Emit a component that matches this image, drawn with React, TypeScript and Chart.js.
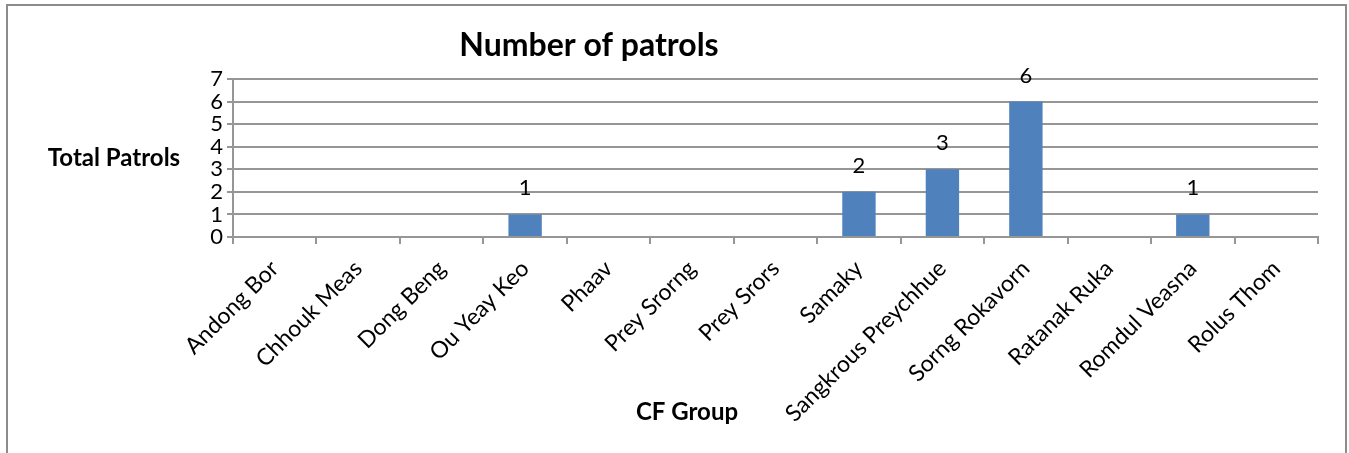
import React, { useEffect, useRef } from "react";
import { Chart, registerables } from "chart.js";

Chart.register(...registerables);

const categories = [
  "Andong Bor",
  "Chhouk Meas",
  "Dong Beng",
  "Ou Yeay Keo",
  "Phaav",
  "Prey Srorng",
  "Prey Srors",
  "Samaky",
  "Sangkrous Preychhue",
  "Sorng Rokavorn",
  "Ratanak Ruka",
  "Romdul Veasna",
  "Rolus Thom",
];
const patrols = [0, 0, 0, 1, 0, 0, 0, 2, 3, 6, 0, 1, 0];
const yTicks = [0, 1, 2, 3, 4, 5, 6, 7];
const chartTitle = "Number of patrols";
const yTitle = "Total Patrols";
const xTitle = "CF Group";

const FONT = "Lato, 'Open Sans', sans-serif";
const GRID = "#969696";
const BAR = "#4F81BD";

const textPlugin = {
  id: "extraText",
  afterDatasetsDraw(chart: any) {
    const ctx = chart.ctx;
    const meta = chart.getDatasetMeta(0);
    ctx.save();
    ctx.fillStyle = "#000";
    ctx.font = `22px ${FONT}`;
    ctx.textAlign = "center";
    ctx.textBaseline = "alphabetic";
    meta.data.forEach((el: any, i: number) => {
      const v = patrols[i];
      if (!v) return;
      ctx.fillText(String(v), el.x, el.y - 19);
    });
    ctx.textBaseline = "middle";
    ctx.font = `bold 32px ${FONT}`;
    ctx.fillText(chartTitle, 589, 46);
    ctx.font = `bold 24px ${FONT}`;
    ctx.fillText(yTitle, 114, 158);
    ctx.fillText(xTitle, 687, 412);
    ctx.restore();
  },
};

export default function App() {
  const ref = useRef<HTMLCanvasElement | null>(null);

  useEffect(() => {
    if (!ref.current) return;
    const chart = new Chart(ref.current, {
      type: "bar",
      data: {
        labels: categories,
        datasets: [
          {
            data: patrols,
            backgroundColor: BAR,
            barPercentage: 0.4,
            categoryPercentage: 1,
          },
        ],
      },
      options: {
        responsive: false,
        animation: false,
        layout: { padding: { top: 79, right: 31, left: 0, bottom: 0 } },
        plugins: {
          legend: { display: false },
          tooltip: { enabled: false },
          title: { display: false },
        },
        scales: {
          x: {
            ticks: {
              font: { size: 23, family: FONT },
              color: "#000",
              maxRotation: 45,
              minRotation: 45,
              autoSkip: false,
              padding: 11,
            },
            grid: {
              display: true,
              drawOnChartArea: false,
              color: GRID,
              lineWidth: 2,
              tickLength: 7,
              offset: true,
            },
            border: { color: GRID, width: 2 },
            afterFit: (s: any) => {
              s.height = 216;
            },
          },
          y: {
            min: 0,
            max: 7,
            afterBuildTicks: (s: any) => {
              s.ticks = yTicks.map((v) => ({ value: v }));
            },
            ticks: {
              font: { size: 22, family: FONT, lineHeight: 1 },
              color: "#000",
              padding: 4,
              autoSkip: false,
            },
            grid: { color: GRID, lineWidth: 2, tickLength: 6 },
            border: { color: GRID, width: 2 },
            afterFit: (s: any) => {
              s.width = 233;
            },
          },
        },
      },
      plugins: [textPlugin],
    });
    return () => chart.destroy();
  }, []);

  return (
    <div
      style={{
        position: "fixed",
        left: 0,
        top: 0,
        width: 1349,
        height: 453,
        background: "#fff",
        overflow: "hidden",
      }}
    >
      <div
        style={{
          position: "absolute",
          left: 6,
          top: 4,
          width: 1341,
          height: 480,
          border: "2px solid #8c8c8c",
          boxSizing: "border-box",
        }}
      />
      <canvas
        ref={ref}
        width={1349}
        height={453}
        style={{ position: "absolute", left: 0, top: 0, display: "block" }}
      />
    </div>
  );
}
